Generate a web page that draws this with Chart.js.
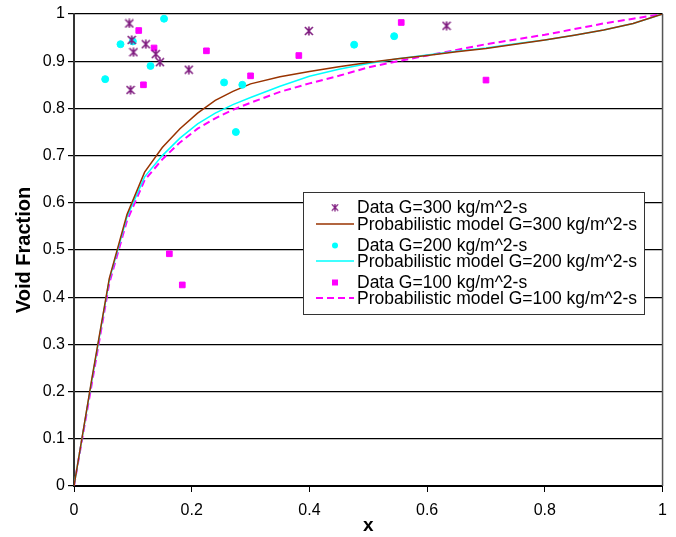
<!DOCTYPE html>
<html>
<head>
<meta charset="utf-8">
<script src="https://cdn.jsdelivr.net/npm/chart.js@4.4.1/dist/chart.umd.min.js"></script>
<style>
  html, body { margin: 0; padding: 0; background: #fff; }
  #wrap { width: 676px; height: 537px; }
</style>
</head>
<body>
<div id="wrap"><canvas id="chart" width="676" height="537"></canvas></div>
<script>
// measured data, G = 300 / 200 / 100 kg/m^2-s
var x300 = [0.094, 0.098, 0.122, 0.101, 0.139, 0.146, 0.195, 0.096, 0.399, 0.633];
var vf300 = [0.980, 0.945, 0.936, 0.919, 0.915, 0.898, 0.882, 0.839, 0.964, 0.975];
var x200 = [0.153, 0.079, 0.100, 0.130, 0.053, 0.255, 0.286, 0.476, 0.275, 0.544];
var vf200 = [0.990, 0.936, 0.942, 0.890, 0.862, 0.855, 0.850, 0.935, 0.750, 0.953];
var x100 = [0.110, 0.136, 0.118, 0.225, 0.300, 0.382, 0.556, 0.700, 0.162, 0.184];
var vf100 = [0.965, 0.928, 0.850, 0.922, 0.869, 0.912, 0.982, 0.860, 0.492, 0.426];

// probabilistic model curves
var modelX = [0, 0.03, 0.06, 0.09, 0.12, 0.15, 0.18, 0.21, 0.24, 0.27, 0.30, 0.35, 0.40, 0.45, 0.50, 0.55, 0.60, 0.65, 0.70, 0.75, 0.80, 0.85, 0.90, 0.95, 1];
var model300 = [0, 0.225, 0.44, 0.575, 0.665, 0.717, 0.757, 0.79, 0.817, 0.836, 0.852, 0.867, 0.878, 0.888, 0.897, 0.905, 0.912, 0.92, 0.927, 0.936, 0.945, 0.955, 0.966, 0.98, 1];
var model200 = [0, 0.222, 0.437, 0.57, 0.655, 0.7, 0.737, 0.767, 0.79, 0.808, 0.823, 0.847, 0.868, 0.883, 0.895, 0.905, 0.913, 0.921, 0.928, 0.937, 0.945, 0.955, 0.966, 0.98, 1];
var model100 = [0, 0.215, 0.43, 0.562, 0.648, 0.692, 0.728, 0.757, 0.779, 0.797, 0.812, 0.835, 0.853, 0.869, 0.887, 0.9, 0.912, 0.924, 0.936, 0.946, 0.956, 0.968, 0.98, 0.99, 1];

var labels = ['Data G=300 kg/m^2-s', 'Probabilistic model G=300 kg/m^2-s',
  'Data G=200 kg/m^2-s', 'Probabilistic model G=200 kg/m^2-s',
  'Data G=100 kg/m^2-s', 'Probabilistic model G=100 kg/m^2-s'];

var FONT = '"Liberation Sans", Arial, sans-serif';

function pairs(xs, ys) {
  return xs.map(function(v, i) { return {x: v, y: ys[i]}; });
}

// excel style asterisk marker (x with a vertical bar)
function makeStar(color) {
  var c = document.createElement('canvas');
  c.width = 10; c.height = 10;
  var g = c.getContext('2d');
  g.strokeStyle = color;
  g.lineWidth = 1.6;
  g.beginPath();
  g.moveTo(1, 1); g.lineTo(9, 9);
  g.moveTo(9, 1); g.lineTo(1, 9);
  g.moveTo(5, 0.5); g.lineTo(5, 9.5);
  g.stroke();
  return c;
}
var starImg = makeStar('#7f1b7f');

// legend box drawn inside the plot
var boxLegend = {
  id: 'boxLegend',
  afterDatasetsDraw: function(chart) {
    var ctx = chart.ctx, a = chart.chartArea;
    var left = a.left + 229, top = a.top + 178, w = 341, h = 122;
    ctx.save();
    ctx.fillStyle = '#fff';
    ctx.fillRect(left, top, w, h);
    ctx.strokeStyle = '#333';
    ctx.lineWidth = 1;
    ctx.strokeRect(left + 0.5, top + 0.5, w, h);
    var rows = [15.5, 32, 53.5, 69, 90.5, 106];
    ctx.font = '17.5px ' + FONT;
    ctx.textBaseline = 'middle';
    chart.data.datasets.forEach(function(ds, i) {
      var y = top + rows[i];
      var cx = left + 32;
      ctx.fillStyle = '#000';
      ctx.fillText(ds.label, left + 54, y + 1);
      if (ds.showLine) {
        ctx.strokeStyle = ds.borderColor;
        ctx.lineWidth = ds.borderWidth;
        ctx.setLineDash(ds.borderDash || []);
        ctx.beginPath();
        ctx.moveTo(left + 13, y);
        ctx.lineTo(left + 51, y);
        ctx.stroke();
        ctx.setLineDash([]);
      } else if (ds.pointStyle === starImg) {
        ctx.drawImage(starImg, cx - 4, y - 4, 8, 8);
      } else if (ds.pointStyle === 'rect') {
        ctx.fillStyle = ds.backgroundColor;
        ctx.fillRect(cx - 3, y - 3, 6, 6);
      } else {
        ctx.fillStyle = ds.backgroundColor;
        ctx.beginPath();
        ctx.arc(cx, y, 3, 0, Math.PI * 2);
        ctx.fill();
      }
    });
    ctx.restore();
  }
};

// right-hand frame line
var frame = {
  id: 'frame',
  afterDraw: function(chart) {
    var ctx = chart.ctx, a = chart.chartArea;
    ctx.save();
    ctx.strokeStyle = '#555';
    ctx.lineWidth = 1.5;
    ctx.beginPath();
    ctx.moveTo(a.right, a.top);
    ctx.lineTo(a.right, a.bottom);
    ctx.stroke();
    ctx.restore();
  }
};

var fmt = function(v) { return String(+(+v).toFixed(1)); };

var ctx = document.getElementById('chart').getContext('2d');
var chart = new Chart(ctx, {
  type: 'scatter',
  data: {
    datasets: [
      { label: labels[0], data: pairs(x300, vf300), pointStyle: starImg, showLine: false, order: 1 },
      { label: labels[1], data: pairs(modelX, model300), showLine: true, borderColor: '#993300', borderWidth: 1.5, pointRadius: 0, order: 4 },
      { label: labels[2], data: pairs(x200, vf200), pointStyle: 'circle', pointRadius: 3.5, backgroundColor: '#00ffff', borderColor: '#00ffff', showLine: false, order: 2 },
      { label: labels[3], data: pairs(modelX, model200), showLine: true, borderColor: '#00ffff', borderWidth: 1.5, pointRadius: 0, order: 5 },
      { label: labels[4], data: pairs(x100, vf100), pointStyle: 'rect', pointRadius: 4, backgroundColor: '#ff00ff', borderColor: '#ff00ff', showLine: false, order: 3 },
      { label: labels[5], data: pairs(modelX, model100), showLine: true, borderColor: '#ff00ff', borderWidth: 2, borderDash: [7, 4], pointRadius: 0, order: 6 }
    ]
  },
  options: {
    responsive: false,
    animation: false,
    layout: { padding: { left: 12, right: 13, top: 14, bottom: 0 } },
    plugins: { legend: { display: false }, tooltip: { enabled: false } },
    elements: { line: { tension: 0 } },
    scales: {
      x: {
        type: 'linear', min: 0, max: 1,
        afterFit: function(s) { s.height = 51; },
        ticks: { stepSize: 0.2, callback: fmt, color: '#000', font: { family: FONT, size: 16 }, padding: 9, maxRotation: 0 },
        grid: { drawOnChartArea: false, drawTicks: true, tickLength: 6, color: '#000' },
        border: { display: true, color: '#000', width: 2 },
        title: { display: true, text: 'x', color: '#000', font: { family: FONT, size: 19, weight: 'bold' }, padding: { top: 0, bottom: 0 } }
      },
      y: {
        type: 'linear', min: 0, max: 1,
        afterFit: function(s) { s.width = 62; },
        ticks: { stepSize: 0.1, callback: fmt, color: '#000', font: { family: FONT, size: 16 }, padding: 3 },
        grid: { color: '#000', lineWidth: 1.2, tickLength: 6 },
        border: { display: true, color: '#333', width: 2 },
        title: { display: true, text: 'Void Fraction', color: '#000', font: { family: FONT, size: 20, weight: 'bold' }, padding: { top: 0, bottom: 2 } }
      }
    }
  },
  plugins: [boxLegend, frame]
});
</script>
</body>
</html>
